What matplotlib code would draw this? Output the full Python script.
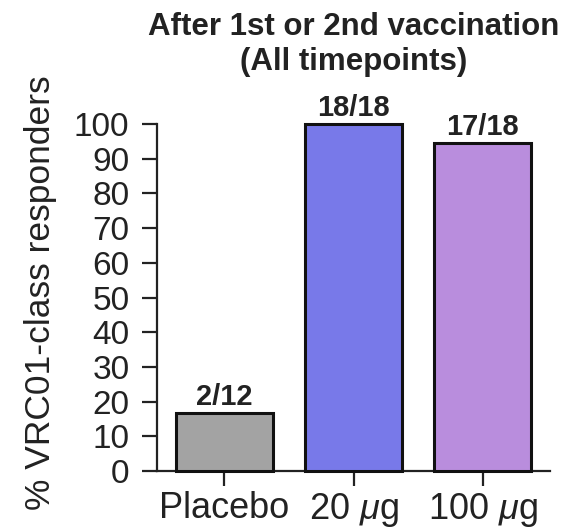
import matplotlib
matplotlib.use("Agg")
import matplotlib.pyplot as plt

categories = ["Placebo", "20 $\\mu$g", "100 $\\mu$g"]
responders = [2, 18, 17]
totals = [12, 18, 18]
percent = [r / t * 100 for r, t in zip(responders, totals)]
labels = [f"{r}/{t}" for r, t in zip(responders, totals)]
colors = ["#a3a3a3", "#7879e9", "#b98ddd"]
yticks = list(range(0, 101, 10))

plt.rcParams['font.family'] = ['Liberation Sans', 'DejaVu Sans']
plt.rcParams['mathtext.fontset'] = 'custom'
plt.rcParams['mathtext.it'] = 'Liberation Sans:italic'
plt.rcParams['mathtext.rm'] = 'Liberation Sans'

fig = plt.figure(figsize=(5.82, 5.30), dpi=100)
ax = fig.add_axes([0.27, 0.111, 0.675, 0.655])

x = list(range(len(categories)))
bars = ax.bar(x, percent, width=0.75, color=colors, edgecolor="#111111",
              linewidth=2.2, clip_on=False, zorder=3)
for xi, p, lab in zip(x, percent, labels):
    ax.text(xi, p + 0.6, lab, ha="center", va="bottom", fontsize=21,
            fontweight="bold", color="#222222")

ax.set_xlim(-0.52, 2.52)
ax.set_ylim(0, 100)
ax.set_yticks(yticks)
ax.set_yticklabels([str(t) for t in yticks], fontsize=24, color="#222222")
ax.set_xticks(x)
ax.set_xticklabels(categories, fontsize=26, color="#222222")
ax.tick_params(axis="both", length=11, width=1.6, color="#222222")
ax.tick_params(axis="y", pad=9)
ax.tick_params(axis="x", pad=3)
for s in ["top", "right"]:
    ax.spines[s].set_visible(False)
for s in ["left", "bottom"]:
    ax.spines[s].set_linewidth(1.6)
    ax.spines[s].set_color("#222222")
ax.set_ylabel("% VRC01-class responders", fontsize=25.5, color="#222222")
ax.yaxis.set_label_coords(-0.255, 0.515)
fig.text((0.27 + 0.945) / 2, 1 - 12 / 530,
         "After 1st or 2nd vaccination\n(All timepoints)", fontsize=22.5,
         fontweight="bold", color="#222222", ha="center", va="top",
         linespacing=1.2)

fig.savefig("out.png", dpi=100)
